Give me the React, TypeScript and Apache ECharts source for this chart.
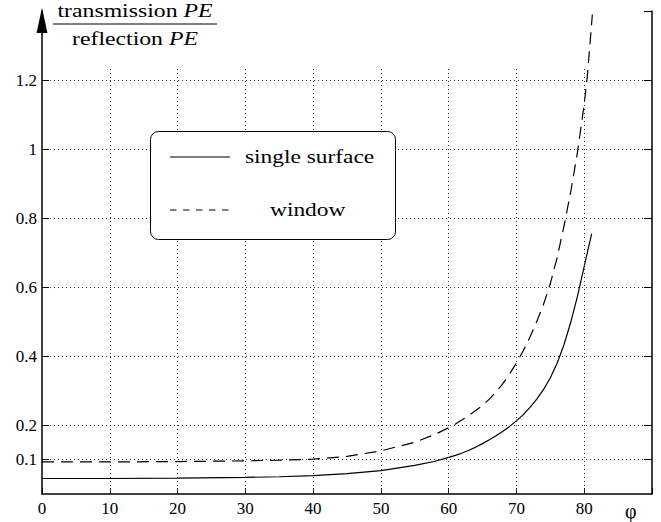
import React, { useEffect, useRef } from "react";
import * as echarts from "echarts";

const xTicks = [0, 10, 20, 30, 40, 50, 60, 70, 80, 90];
const yLeftTicks = [0.1, 0.2, 0.4, 0.6, 0.8, 1, 1.2];
const yRightTicks = [0.1, 0.2, 0.4, 0.6, 0.8, 1, 1.2, 1.4];
const vGridTop = 1.24;

const singleX = [0, 10, 20, 30, 35, 40, 45, 50, 55, 58, 60, 61, 62, 63, 64, 65, 66, 67, 68, 69, 70, 71, 72, 73, 74, 75, 76, 77, 78, 79, 80, 81.1];
const singleY = [0.045, 0.045, 0.046, 0.048, 0.05, 0.053, 0.059, 0.068, 0.083, 0.095, 0.106, 0.112, 0.119, 0.127, 0.136, 0.146, 0.157, 0.169, 0.182, 0.196, 0.212, 0.23, 0.251, 0.275, 0.303, 0.337, 0.379, 0.432, 0.497, 0.573, 0.66, 0.755];

const windowX = [0, 10, 20, 30, 35, 40, 45, 50, 55, 58, 60, 61, 62, 63, 64, 65, 66, 67, 68, 69, 70, 71, 72, 73, 74, 75, 76, 77, 78, 79, 80, 80.5, 81.2];
const windowY = [0.093, 0.093, 0.094, 0.096, 0.098, 0.101, 0.109, 0.125, 0.15, 0.173, 0.192, 0.203, 0.215, 0.228, 0.242, 0.257, 0.275, 0.296, 0.32, 0.348, 0.38, 0.415, 0.455, 0.5, 0.55, 0.61, 0.685, 0.775, 0.875, 0.99, 1.13, 1.22, 1.39];

const FONT = "'Liberation Serif', 'Times New Roman', 'DejaVu Serif', serif";

export default function App() {
  const ref = useRef<HTMLDivElement>(null);
  useEffect(() => {
    if (!ref.current) return;
    const chart = echarts.init(ref.current, null, { renderer: "svg" });
    const gridDot = { type: [1, 3] as any, color: "#333", width: 1 };
    const labelStyle = { color: "#000", fontFamily: FONT, fontSize: 17 };
    chart.setOption({
      animation: false,
      backgroundColor: "#fff",
      textStyle: { fontFamily: FONT },
      grid: { left: 42, right: 9, top: 11, bottom: 28, outerBoundsMode: "none", containLabel: false },
      xAxis: {
        type: "value",
        min: 0,
        max: 90,
        interval: 10,
        name: "φ",
        nameLocation: "end",
        nameGap: -27,
        nameTextStyle: { color: "#000", fontFamily: FONT, fontSize: 20, verticalAlign: "top", padding: [7, 0, 0, 0] },
        axisLine: { show: true, lineStyle: { color: "#000", width: 1.5 } },
        axisTick: { show: true, inside: true, length: 6, lineStyle: { color: "#000", width: 1 } },
        axisLabel: { ...labelStyle, margin: 6, formatter: (v: number) => (v === 90 ? "" : String(v)) },
        splitLine: { show: false },
      },
      yAxis: [
        {
          type: "value",
          min: 0,
          max: 1.4,
          position: "left",
          axisLine: {
            show: true,
            lineStyle: { color: "#000", width: 1.5 },
            symbol: ["none", "triangle"],
            symbolSize: [11, 25],
            symbolOffset: [0, -9.5],
          },
          axisTick: { show: true, inside: true, length: 7, customValues: yLeftTicks, lineStyle: { color: "#000", width: 1 } },
          axisLabel: { ...labelStyle, margin: 5, customValues: yLeftTicks, formatter: (v: number) => String(v) },
          splitLine: { show: true, lineStyle: gridDot },
        },
        {
          type: "value",
          min: 0,
          max: 1.4,
          position: "right",
          axisLine: { show: true, lineStyle: { color: "#000", width: 1.5 } },
          axisTick: { show: true, inside: true, length: 8, customValues: yRightTicks, lineStyle: { color: "#000", width: 1 } },
          axisLabel: { show: false },
          splitLine: { show: false },
        },
      ],
      series: [
        {
          name: "grid",
          type: "line",
          data: [],
          silent: true,
          markLine: {
            silent: true,
            symbol: "none",
            label: { show: false },
            lineStyle: gridDot,
            data: xTicks.filter((v) => v > 0 && v < 90).map((v) => [{ coord: [v, 0] }, { coord: [v, vGridTop] }]),
          },
        },
        {
          name: "single surface",
          type: "line",
          showSymbol: false,
          symbol: "none",
          smooth: false,
          lineStyle: { color: "#000", width: 1.2, type: "solid" },
          data: singleX.map((x, i) => [x, singleY[i]]),
        },
        {
          name: "window",
          type: "line",
          showSymbol: false,
          symbol: "none",
          smooth: false,
          lineStyle: { color: "#000", width: 1.2, type: [12, 7] },
          data: windowX.map((x, i) => [x, windowY[i]]),
        },
      ],
      graphic: [
        {
          type: "rect",
          left: 150,
          top: 131,
          shape: { width: 245, height: 108, r: 8 },
          style: { fill: "#fff", stroke: "#000", lineWidth: 1 },
          z: 100,
        },
        {
          type: "line",
          shape: { x1: 170, y1: 157, x2: 230, y2: 157 },
          style: { stroke: "#000", lineWidth: 1 },
          z: 101,
        },
        {
          type: "text",
          x: 245,
          y: 157,
          scaleX: 1.3,
          style: { text: "single surface", fontFamily: FONT, fontSize: 18, fill: "#000", verticalAlign: "middle", align: "left" },
          z: 101,
        },
        {
          type: "line",
          shape: { x1: 170, y1: 210, x2: 230, y2: 210 },
          style: { stroke: "#000", lineWidth: 1, lineDash: [6.5, 6.5] },
          z: 101,
        },
        {
          type: "text",
          x: 270,
          y: 210,
          scaleX: 1.3,
          style: { text: "window", fontFamily: FONT, fontSize: 18, fill: "#000", verticalAlign: "middle", align: "left" },
          z: 101,
        },
        {
          type: "text",
          x: 135,
          y: 11,
          scaleX: 1.32,
          style: {
            text: "{n|transmission }{i|PE}",
            align: "center",
            verticalAlign: "middle",
            rich: {
              n: { fontFamily: FONT, fontSize: 18, fill: "#000" },
              i: { fontFamily: FONT, fontSize: 18, fontStyle: "italic", fill: "#000" },
            },
          },
          z: 101,
        },
        {
          type: "line",
          shape: { x1: 53, y1: 24, x2: 217, y2: 24 },
          style: { stroke: "#000", lineWidth: 1 },
          z: 101,
        },
        {
          type: "text",
          x: 135,
          y: 39,
          scaleX: 1.32,
          style: {
            text: "{n|reflection }{i|PE}",
            align: "center",
            verticalAlign: "middle",
            rich: {
              n: { fontFamily: FONT, fontSize: 18, fill: "#000" },
              i: { fontFamily: FONT, fontSize: 18, fontStyle: "italic", fill: "#000" },
            },
          },
          z: 101,
        },
      ],
    });
    return () => chart.dispose();
  }, []);
  return <div ref={ref} style={{ position: "absolute", left: 0, top: 0, width: 661, height: 522 }} />;
}
